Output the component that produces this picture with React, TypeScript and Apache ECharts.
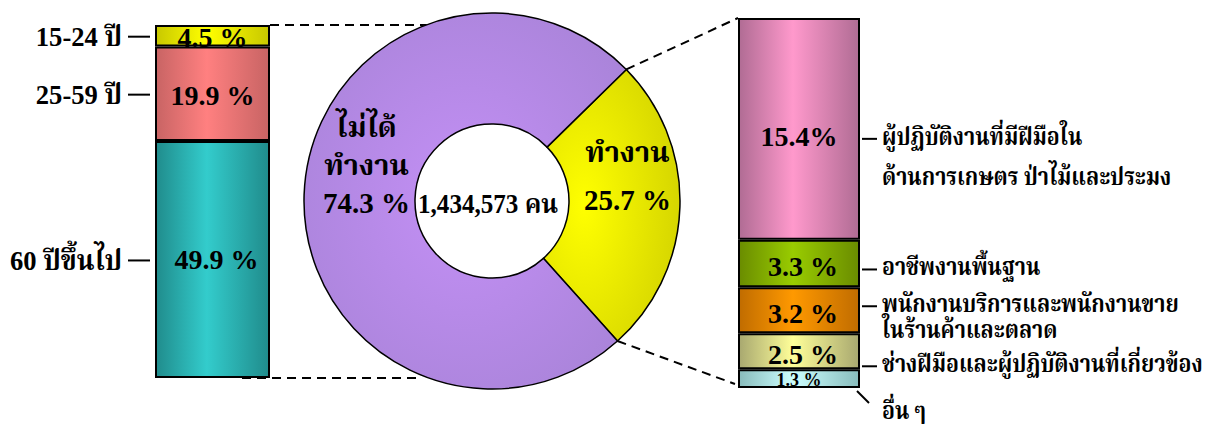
import React, { useEffect, useRef } from "react";
import * as echarts from "echarts";

const ageCats = ["15-24 ปี", "25-59 ปี", "60 ปีขึ้นไป"];
const ageVals = [4.5, 19.9, 49.9];
const statusCats = ["ทำงาน", "ไม่ได้\nทำงาน"];
const statusVals = [25.7, 74.3];
const totalPeople = "1,434,573 คน";
const occCats = [
  ["ผู้ปฏิบัติงานที่มีฝีมือใน", "ด้านการเกษตร ป่าไม้และประมง"],
  ["อาชีพงานพื้นฐาน"],
  ["พนักงานบริการและพนักงานขาย", "ในร้านค้าและตลาด"],
  ["ช่างฝีมือและผู้ปฏิบัติงานที่เกี่ยวข้อง"],
  ["อื่น ๆ"],
];
const occVals = [15.4, 3.3, 3.2, 2.5, 1.3];

const FONT = "'Liberation Serif', 'Noto Serif Thai', 'Noto Sans Thai', 'Times New Roman', serif";

const hGrad = (edge: string, mid: string) =>
  new echarts.graphic.LinearGradient(0, 0, 1, 0, [
    { offset: 0, color: edge },
    { offset: 0.45, color: mid },
    { offset: 1, color: edge },
  ]);

const ageColors = [
  ["#c8c800", "#ffff00"],
  ["#c86464", "#ff8080"],
  ["#208c8c", "#33cccc"],
];
const occColors = [
  ["#b06c94", "#ff99cc"],
  ["#6a8c00", "#99cc00"],
  ["#c06c00", "#ff9900"],
  ["#a8a870", "#ffff99"],
  ["#88bcbc", "#ccffff"],
];

const LG = { left: 155, top: 25, width: 115, height: 353 };
const RG = { left: 738, top: 18, width: 122, height: 370 };
const PIE = { cx: 492, cy: 201, r0: 77, r1: 188 };
const START = 44.4;

function segCenters(vals: number[], g: { top: number; height: number }) {
  const total = vals.reduce((a, b) => a + b, 0);
  let acc = 0;
  return vals.map((v) => {
    const c = g.top + ((acc + v / 2) / total) * g.height;
    acc += v;
    return c;
  });
}

export default function App() {
  const ref = useRef<HTMLDivElement>(null);
  useEffect(() => {
    const chart = echarts.init(ref.current!, undefined, { renderer: "svg" });
    const ageTotal = ageVals.reduce((a, b) => a + b, 0);
    const occTotal = occVals.reduce((a, b) => a + b, 0);

    const series: any[] = [];
    for (let i = ageVals.length - 1; i >= 0; i--) {
      series.push({
        type: "bar",
        name: ageCats[i],
        stack: "age",
        xAxisIndex: 0,
        yAxisIndex: 0,
        barWidth: "100%",
        data: [ageVals[i]],
        itemStyle: {
          color: hGrad(ageColors[i][0], ageColors[i][1]),
          borderColor: "#000",
          borderWidth: 2,
        },
        label: {
          show: true,
          position: "inside",
          formatter: `${ageVals[i]} %`,
          fontFamily: FONT,
          fontWeight: "bold",
          fontSize: 28,
          color: "#000",
          offset: i === 2 ? [4, 0] : [0, 2],
        },
      });
    }
    for (let i = occVals.length - 1; i >= 0; i--) {
      series.push({
        type: "bar",
        name: occCats[i].join(""),
        stack: "occ",
        xAxisIndex: 1,
        yAxisIndex: 1,
        barWidth: "100%",
        data: [occVals[i]],
        itemStyle: {
          color: hGrad(occColors[i][0], occColors[i][1]),
          borderColor: "#000",
          borderWidth: 2,
        },
        label: {
          show: true,
          position: "inside",
          formatter: i === 0 ? `${occVals[i]}%` : `${occVals[i]} %`,
          fontFamily: FONT,
          fontWeight: "bold",
          fontSize: i === occVals.length - 1 ? 18 : 28,
          color: "#000",
          offset: i === occVals.length - 1 ? [0, 1] : i === 0 ? [0, 8] : [4, 3],
        },
      });
    }

    series.push({
      type: "pie",
      center: [PIE.cx, PIE.cy],
      radius: [PIE.r0, PIE.r1],
      startAngle: START,
      clockwise: true,
      data: [
        {
          value: statusVals[0],
          name: statusCats[0],
          itemStyle: {
            color: new echarts.graphic.RadialGradient(0.3, 0.5, 0.8, [
              { offset: 0, color: "#ffff00" },
              { offset: 1, color: "#d0d000" },
            ]),
          },
          label: {
            lineHeight: 48,
            formatter: (p: any) => `${p.name}\n${p.value} %\n{sp| }`,
            rich: { sp: { lineHeight: 58, fontSize: 10 } },
          },
        },
        {
          value: statusVals[1],
          name: statusCats[1],
          itemStyle: {
            color: new echarts.graphic.RadialGradient(0.5, 0.5, 0.6, [
              { offset: 0, color: "#c490f6" },
              { offset: 1, color: "#aa84da" },
            ]),
          },
          label: {
            lineHeight: 38,
            formatter: (p: any) =>
              `${String(p.name)
                .split("\n")
                .map((s: string) => `{pad| }${s}`)
                .join("\n")}\n{pad| }${p.value} %\n{sp| }`,
            rich: {
              sp: { lineHeight: 64, fontSize: 10 },
              pad: { width: 20, fontSize: 10 },
            },
          },
        },
      ],
      itemStyle: { borderColor: "#000", borderWidth: 1.5 },
      label: {
        show: true,
        position: "inside",
        fontFamily: FONT,
        fontWeight: "bold",
        fontSize: 29,
        color: "#000",
      },
      labelLine: { show: false },
      silent: true,
    });

    const graphics: any[] = [];
    const tStyle = (extra: any) => ({
      fontFamily: FONT,
      fontWeight: "bold",
      fill: "#000",
      ...extra,
    });
    const lc = segCenters(ageVals, LG);
    ageCats.forEach((c, i) => {
      graphics.push({
        type: "text",
        x: 122,
        y: lc[i] + 1,
        scaleX: 0.95,
        style: tStyle({ text: c, fontSize: 28, align: "right", verticalAlign: "middle" }),
      });
      graphics.push({
        type: "line",
        shape: { x1: 128, y1: lc[i] + 1, x2: 150, y2: lc[i] + 1 },
        style: { stroke: "#000", lineWidth: 2 },
      });
    });
    const rc = segCenters(occVals, RG);
    const offs = [[8, 48], [4], [-6, 20], [13], [32]];
    occCats.forEach((lines, i) => {
      lines.forEach((ln, j) => {
        graphics.push({
          type: "text",
          x: 882,
          y: rc[i] + offs[i][j],
          scaleX: 0.89,
          style: tStyle({ text: ln, fontSize: 24, align: "left", verticalAlign: "middle" }),
        });
      });
      if (i < occCats.length - 1) {
        graphics.push({
          type: "line",
          shape: { x1: 862, y1: rc[i] + offs[i][0] + 2, x2: 877, y2: rc[i] + offs[i][0] + 2 },
          style: { stroke: "#000", lineWidth: 2 },
        });
      } else {
        graphics.push({
          type: "line",
          shape: { x1: 857, y1: RG.top + RG.height + 3, x2: 869, y2: RG.top + RG.height + 15 },
          style: { stroke: "#000", lineWidth: 2 },
        });
      }
    });
    graphics.push({
      type: "text",
      x: PIE.cx - 74,
      y: PIE.cy + 3,
      scaleX: 0.93,
      style: tStyle({ text: totalPeople, fontSize: 27, align: "left", verticalAlign: "middle" }),
    });
    const a1 = (START * Math.PI) / 180;
    const a2 = ((START - (statusVals[0] / 100) * 360) * Math.PI) / 180;
    const p1 = [PIE.cx + PIE.r1 * Math.cos(a1), PIE.cy - PIE.r1 * Math.sin(a1)];
    const p2 = [PIE.cx + PIE.r1 * Math.cos(a2), PIE.cy - PIE.r1 * Math.sin(a2)];
    const dash = { stroke: "#000", lineWidth: 2, lineDash: [9, 6] };
    graphics.push(
      { type: "line", shape: { x1: LG.left + LG.width, y1: LG.top, x2: 430, y2: LG.top }, style: dash },
      { type: "line", shape: { x1: 242, y1: LG.top + LG.height, x2: 420, y2: LG.top + LG.height }, style: dash },
      { type: "line", shape: { x1: p1[0], y1: p1[1], x2: RG.left, y2: RG.top }, style: dash },
      { type: "line", shape: { x1: p2[0], y1: p2[1], x2: RG.left - 3, y2: RG.top + RG.height - 4 }, style: dash }
    );

    chart.setOption({
      animation: false,
      grid: [
        { ...LG, containLabel: false },
        { ...RG, containLabel: false },
      ],
      xAxis: [
        { type: "category", gridIndex: 0, data: ["age"], show: false },
        { type: "category", gridIndex: 1, data: ["occ"], show: false },
      ],
      yAxis: [
        { type: "value", gridIndex: 0, min: 0, max: ageTotal, show: false },
        { type: "value", gridIndex: 1, min: 0, max: occTotal, show: false },
      ],
      series,
      graphic: graphics,
    });
    return () => chart.dispose();
  }, []);
  return (
    <div
      ref={ref}
      style={{ width: 1223, height: 424, position: "absolute", left: 0, top: 0, background: "#fff" }}
    />
  );
}
